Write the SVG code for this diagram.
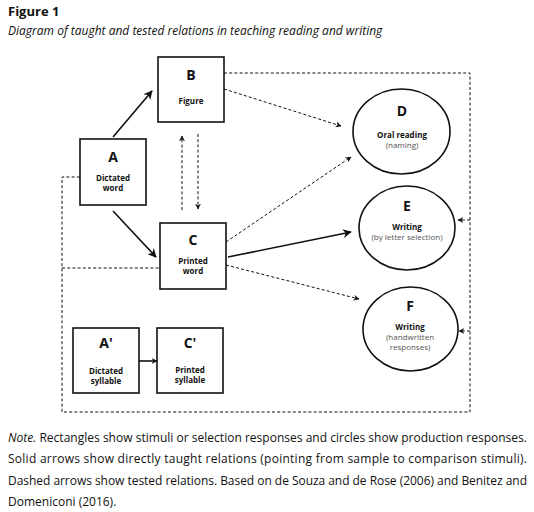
<svg xmlns="http://www.w3.org/2000/svg" width="534" height="512" viewBox="0 0 534 512">
<style>
text{font-family:"Open Sans","Noto Sans","DejaVu Sans",sans-serif;fill:#111}
.box{fill:#fff;stroke:#111;stroke-width:1.6}
.circ{fill:#fff;stroke:#111;stroke-width:1.6}
.big{font-size:14px;font-weight:bold;text-anchor:middle}
.lab{font-size:8px;font-weight:bold;text-anchor:middle}
.sub{font-size:8px;text-anchor:middle;fill:#555}
.solid{fill:none;stroke:#111;stroke-width:1.6}
.dash{fill:none;stroke:#111;stroke-width:1;stroke-dasharray:3 2.2}
.note{font-size:12px}
</style>
<defs>
<marker id="ah" viewBox="0 0 10 10" refX="9" refY="5" markerWidth="6" markerHeight="6" markerUnits="userSpaceOnUse" orient="auto"><path d="M0,0 L10,5 L0,10 L3,5 Z" fill="#111"/></marker>
<marker id="ahs" viewBox="0 0 10 10" refX="9" refY="5" markerWidth="9" markerHeight="9" markerUnits="userSpaceOnUse" orient="auto"><path d="M0,0 L10,5 L0,10 L3,5 Z" fill="#111"/></marker>
</defs>
<rect width="534" height="512" fill="#fff"/>
<text x="8" y="16" style="font-size:13px;font-weight:bold">Figure 1</text>
<text x="8" y="35" style="font-size:12px;font-style:italic">Diagram of taught and tested relations in teaching reading and writing</text>

<g id="connectors">
<path class="dash" d="M224,73 H470 V412 H62 V177 H80"/>
<path class="dash" d="M62,268 H160"/>
<path class="dash" d="M470,220 H458" marker-end="url(#ah)"/>
<path class="dash" d="M470,331 H459" marker-end="url(#ah)"/>
<path class="solid" d="M113,137 L152,91" marker-end="url(#ahs)"/>
<path class="solid" d="M113,211 L156,257" marker-end="url(#ahs)"/>
<path class="dash" d="M182,210 V136" marker-end="url(#ah)"/>
<path class="dash" d="M198,134 V209" marker-end="url(#ah)"/>
<path class="dash" d="M224,89 L341,126" marker-end="url(#ah)"/>
<path class="dash" d="M226,242 L351,157" marker-end="url(#ah)"/>
<path class="solid" d="M228,257 L351,232" marker-end="url(#ahs)"/>
<path class="dash" d="M226,265 L359,299" marker-end="url(#ah)"/>
<path class="solid" d="M139,361 L157,361" marker-end="url(#ah)"/>
</g>

<g id="node-B"><rect class="box" x="158" y="57" width="66" height="65"/>
<text class="big" x="191" y="80">B</text><text class="lab" x="191" y="104">Figure</text></g>
<g id="node-A"><rect class="box" x="80" y="139" width="66" height="66"/>
<text class="big" x="113" y="162">A</text><text class="lab" x="113" y="181">Dictated</text><text class="lab" x="113" y="191">word</text></g>
<g id="node-C"><rect class="box" x="160" y="223" width="66" height="66"/>
<text class="big" x="193" y="245">C</text><text class="lab" x="193" y="264">Printed</text><text class="lab" x="193" y="274">word</text></g>
<g id="node-D"><ellipse class="circ" cx="401.5" cy="131.5" rx="48.5" ry="42.5"/>
<text class="big" x="402" y="116">D</text><text class="lab" x="402" y="138">Oral reading</text><text class="sub" x="402" y="148">(naming)</text></g>
<g id="node-E"><ellipse class="circ" cx="407" cy="228" rx="48" ry="42"/>
<text class="big" x="407" y="211">E</text><text class="lab" x="407" y="230">Writing</text><text class="sub" x="407" y="240">(by letter selection)</text></g>
<g id="node-F"><ellipse class="circ" cx="410.5" cy="329" rx="47.5" ry="42"/>
<text class="big" x="410" y="311">F</text><text class="lab" x="410" y="330">Writing</text><text class="sub" x="410" y="340">(handwritten</text><text class="sub" x="410" y="350">responses)</text></g>
<g id="node-A2"><rect class="box" x="73" y="328" width="66" height="65"/>
<text class="big" x="106" y="348">A'</text><text class="lab" x="106" y="374">Dictated</text><text class="lab" x="106" y="384">syllable</text></g>
<g id="node-C2"><rect class="box" x="157" y="328" width="66" height="65"/>
<text class="big" x="190" y="348">C'</text><text class="lab" x="190" y="373">Printed</text><text class="lab" x="190" y="383">syllable</text></g>

<text class="note" x="8" y="442" textLength="519" lengthAdjust="spacing"><tspan font-style="italic">Note.</tspan> Rectangles show stimuli or selection responses and circles show production responses.</text>
<text class="note" x="8" y="463" textLength="519" lengthAdjust="spacing">Solid arrows show directly taught relations (pointing from sample to comparison stimuli).</text>
<text class="note" x="8" y="485" textLength="519" lengthAdjust="spacing">Dashed arrows show tested relations. Based on de Souza and de Rose (2006) and Benitez and</text>
<text class="note" x="8" y="506">Domeniconi (2016).</text>
</svg>
